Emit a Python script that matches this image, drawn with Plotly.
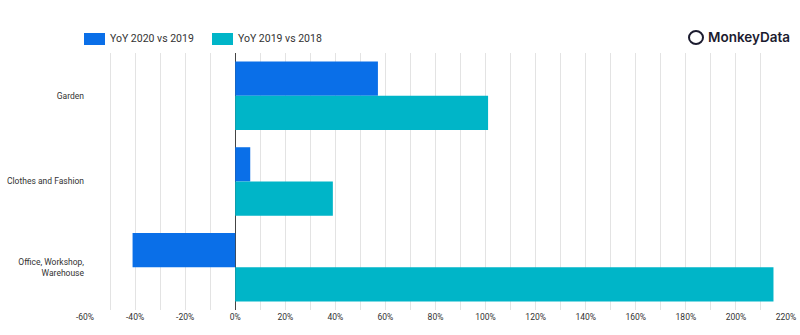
import plotly.graph_objects as go

categories = ["Garden", "Clothes and Fashion", "Office, Workshop,<br>Warehouse"]
yoy_2020_vs_2019 = [57, 6, -41]
yoy_2019_vs_2018 = [101, 39, 215]
series_names = ["YoY 2020 vs 2019", "YoY 2019 vs 2018"]
tick_values = list(range(-60, 221, 20))
tick_labels = [f"{v}%" for v in tick_values]

blue = "#0A6FE8"
teal = "#00B5C8"

fig = go.Figure()
fig.add_trace(go.Bar(y=categories, x=yoy_2020_vs_2019, orientation="h", name=series_names[0],
                     marker=dict(color=blue, line=dict(width=0))))
fig.add_trace(go.Bar(y=categories, x=yoy_2019_vs_2018, orientation="h", name=series_names[1],
                     marker=dict(color=teal, line=dict(width=0))))

fig.update_layout(
    width=800, height=335,
    margin=dict(l=85, r=14, t=53, b=25),
    paper_bgcolor="white", plot_bgcolor="white",
    barmode="group", bargap=0.2, bargroupgap=0,
    showlegend=False,
    font=dict(family="Roboto", color="#333333", size=9),
)
fig.update_xaxes(
    range=[-60, 220], tickvals=tick_values, ticktext=tick_labels,
    showgrid=True, gridcolor="#e3e3e3", gridwidth=1,
    minor=dict(dtick=10, showgrid=True, gridcolor="#e3e3e3", gridwidth=1),
    zeroline=True, zerolinecolor="#444444", zerolinewidth=1,
    showline=False, ticks="", tickfont=dict(size=8.5, color="#333333"),
    fixedrange=True, automargin=False,
)
fig.update_yaxes(
    autorange="reversed", showgrid=False, zeroline=False, showline=False,
    ticks="", tickfont=dict(size=8.5, color="#333333"), ticklabelstandoff=0,
    automargin=False,
)

H = 335 - 25 - 53
# manual legend
legend_items = [(84, blue, series_names[0]), (212, teal, series_names[1])]
for x0, col, name in legend_items:
    fig.add_shape(type="rect", xref="paper", yref="paper",
                  x0=(x0 - 85) / 701, x1=(x0 + 21 - 85) / 701,
                  y0=(335 - 25 - 45) / H, y1=(335 - 25 - 33) / H,
                  fillcolor=col, line=dict(width=0))
    fig.add_annotation(xref="paper", yref="paper", x=(x0 + 24 - 85) / 701,
                       y=(335 - 25 - 39) / H, text=name, showarrow=False,
                       xanchor="left", yanchor="middle",
                       font=dict(family="Roboto", size=10.5, color="#333333"))

# logo
fig.add_annotation(xref="paper", yref="paper", x=(792 - 85) / 701, y=(335 - 25 - 37) / H,
                   text="MonkeyData", showarrow=False, xanchor="right", yanchor="middle",
                   font=dict(family="Inter", size=13.5, color="#1b1b2f", weight=600))
fig.add_shape(type="circle", xref="paper", yref="paper",
              x0=(689 - 85) / 701, x1=(703 - 85) / 701,
              y0=(335 - 25 - 44) / H, y1=(335 - 25 - 31) / H,
              line=dict(color="#1b1b2f", width=2))

fig.write_html("out.html")
